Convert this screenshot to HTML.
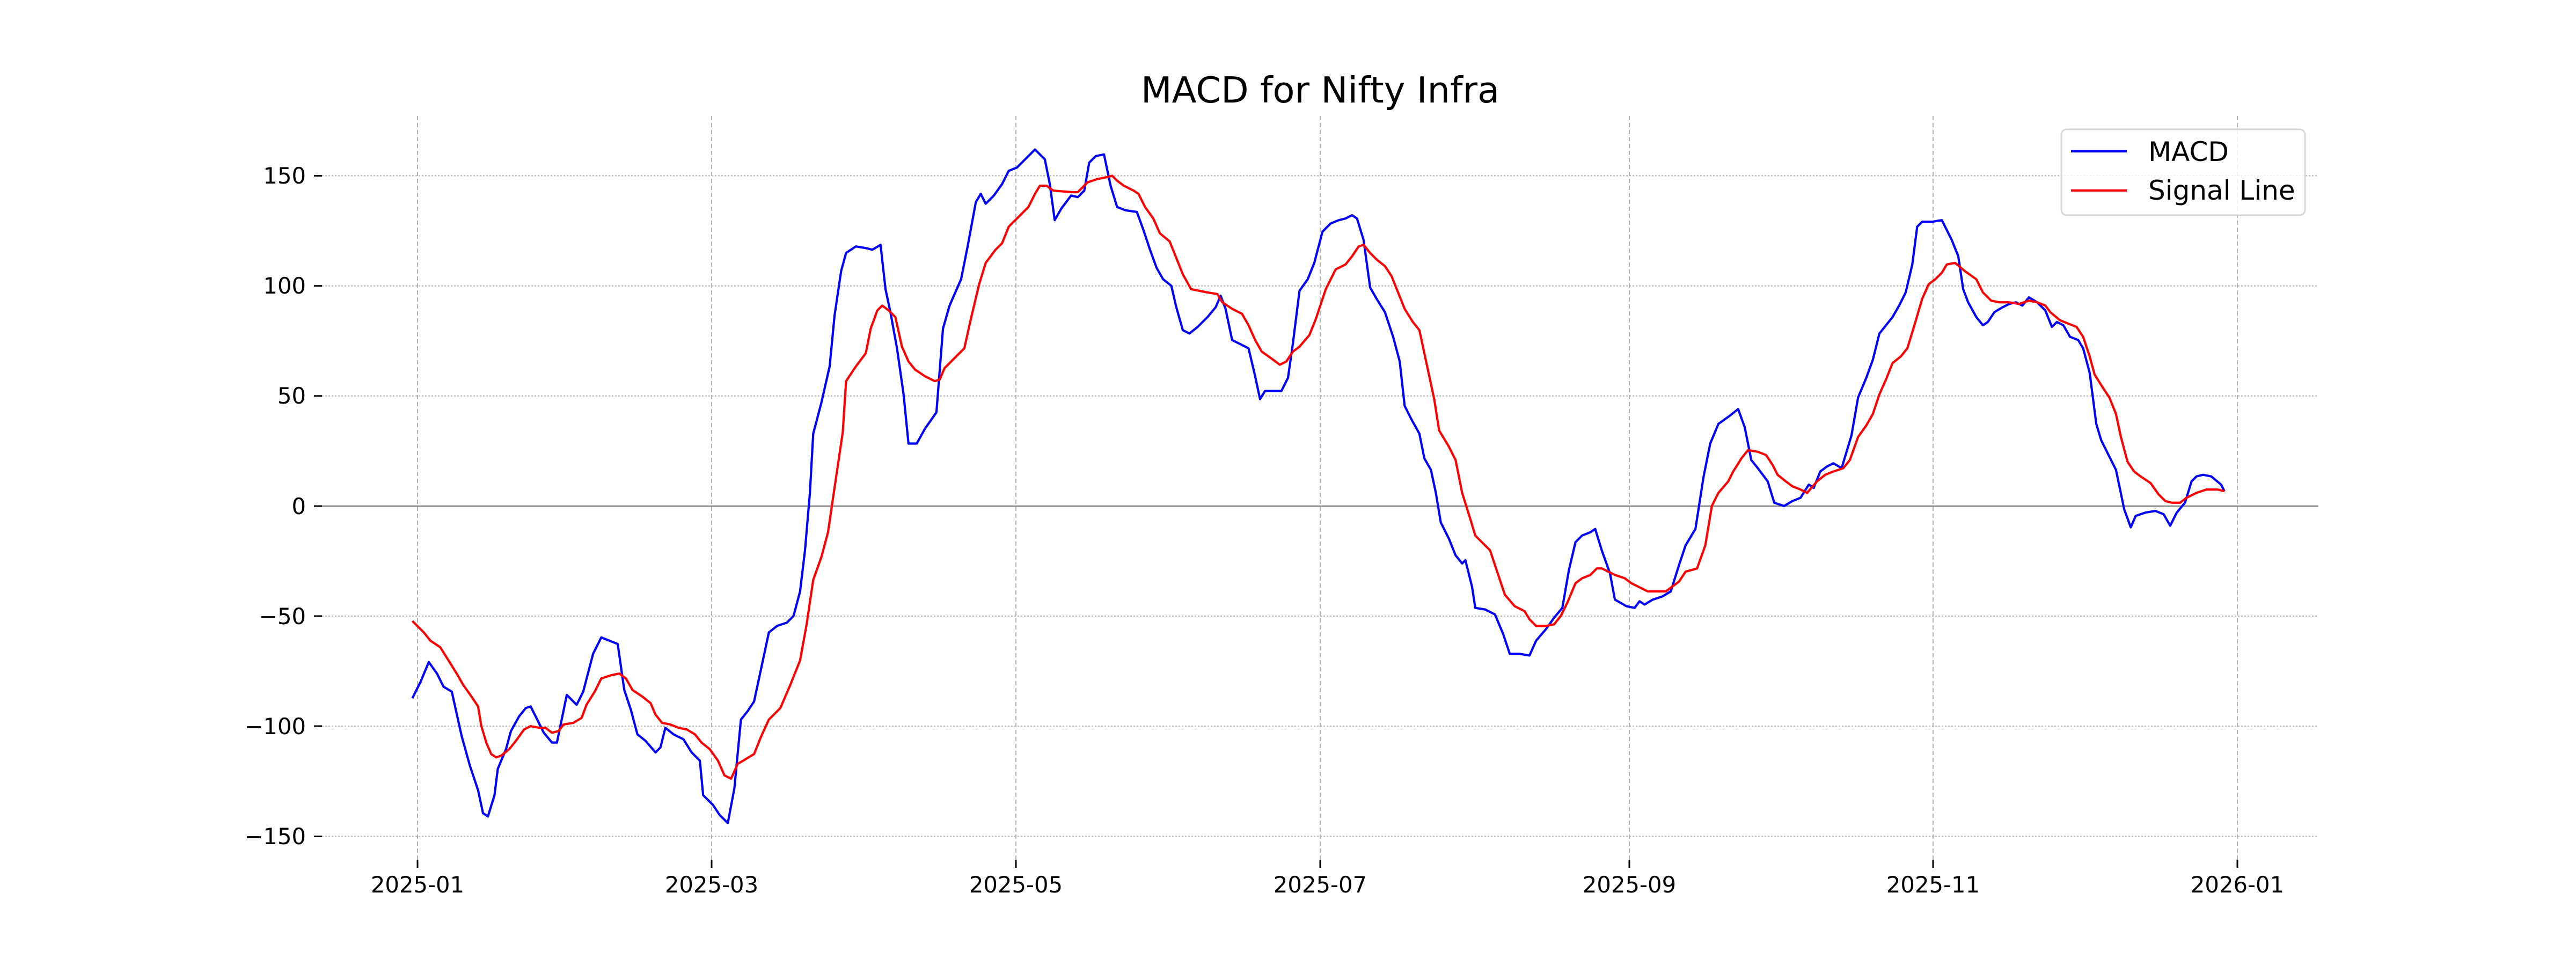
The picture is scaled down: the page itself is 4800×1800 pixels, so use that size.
<!DOCTYPE html>
<html><head><meta charset="utf-8"><style>
html,body{margin:0;padding:0;background:#fff;}
svg{display:block;}
text{font-family:"DejaVu Sans","Liberation Sans",sans-serif;fill:#000;}
</style></head><body>
<svg width="4800" height="1800" viewBox="0 0 4800 1800" xmlns="http://www.w3.org/2000/svg">
<rect width="4800" height="1800" fill="#fff"/>
<text x="2460" y="191" font-size="67" text-anchor="middle">MACD for Nifty Infra</text>
<g stroke="#b0b0b0" stroke-width="2" stroke-dasharray="3,3">
<line x1="600" x2="4320" y1="327.5" y2="327.5"/>
<line x1="600" x2="4320" y1="532.7" y2="532.7"/>
<line x1="600" x2="4320" y1="737.8" y2="737.8"/>
<line x1="600" x2="4320" y1="1148" y2="1148"/>
<line x1="600" x2="4320" y1="1353" y2="1353"/>
<line x1="600" x2="4320" y1="1558.5" y2="1558.5"/>
</g>
<g stroke="#b0b0b0" stroke-width="2" stroke-dasharray="8,5">
<line x1="778" x2="778" y1="216" y2="1602"/>
<line x1="1326" x2="1326" y1="216" y2="1602"/>
<line x1="1893" x2="1893" y1="216" y2="1602"/>
<line x1="2460" x2="2460" y1="216" y2="1602"/>
<line x1="3036" x2="3036" y1="216" y2="1602"/>
<line x1="3602" x2="3602" y1="216" y2="1602"/>
<line x1="4169" x2="4169" y1="216" y2="1602"/>
</g>
<line x1="600" x2="4320" y1="943" y2="943" stroke="#808080" stroke-width="2.5"/>
<g stroke="#000" stroke-width="3">
<line x1="585" x2="600" y1="327.5" y2="327.5"/>
<line x1="585" x2="600" y1="532.7" y2="532.7"/>
<line x1="585" x2="600" y1="737.8" y2="737.8"/>
<line x1="585" x2="600" y1="943" y2="943"/>
<line x1="585" x2="600" y1="1148" y2="1148"/>
<line x1="585" x2="600" y1="1353" y2="1353"/>
<line x1="585" x2="600" y1="1558.5" y2="1558.5"/>
<line x1="778" x2="778" y1="1602" y2="1617"/>
<line x1="1326" x2="1326" y1="1602" y2="1617"/>
<line x1="1893" x2="1893" y1="1602" y2="1617"/>
<line x1="2460" x2="2460" y1="1602" y2="1617"/>
<line x1="3036" x2="3036" y1="1602" y2="1617"/>
<line x1="3602" x2="3602" y1="1602" y2="1617"/>
<line x1="4169" x2="4169" y1="1602" y2="1617"/>
</g>
<g font-size="41.7" text-anchor="end">
<text x="570" y="342">150</text>
<text x="570" y="547">100</text>
<text x="570" y="752">50</text>
<text x="570" y="958">0</text>
<text x="570" y="1163">−50</text>
<text x="570" y="1368">−100</text>
<text x="570" y="1573">−150</text>
</g>
<g font-size="41.7" text-anchor="middle">
<text x="778" y="1663">2025-01</text>
<text x="1326" y="1663">2025-03</text>
<text x="1893" y="1663">2025-05</text>
<text x="2460" y="1663">2025-07</text>
<text x="3036" y="1663">2025-09</text>
<text x="3602" y="1663">2025-11</text>
<text x="4169" y="1663">2026-01</text>
</g>
<g transform="scale(3.0612)" fill="none" stroke-linejoin="round">
<polyline vector-effect="non-scaling-stroke" stroke="#0000ff" stroke-width="4.2" points="251,425 256,415 261,403 266,410 270,418 275,421 281,448 286,466 291,481 294,495 297,497 301,484 303,468 308,456 311,445 316,436 320,431 323,430 326,436 331,446 336,452 339,452 345,423 351,429 355,421 361,398 366,388 371,390 376,392 380,420 384,432 388,447 393,451 399,458 402,455 405,443 410,447 416,450 421,458 426,463 428,484 434,490 438,496 443,501 447,480 451,438 455,433 459,427 465,399 468,385 473,381 479,379 483,375 487,360 490,335 493,300 495,264 500,245 505,223 508,192 512,165 515,154 521,150 527,151 531,152 536,149 539,176 542,190 546,212 550,240 553,270 558,270 563,261 570,251 574,200 578,186 585,170 589,150 594,123 597,118 600,124 605,119 610,112 614,104 619,102 625,96 630,91 636,97 639,112 642,134 646,127 652,119 656,120 660,116 663,99 667,95 672,94 676,113 680,126 685,128 692,129 696,140 700,152 704,163 708,170 713,174 716,187 720,201 724,203 729,199 735,193 740,187 743,180 746,188 750,207 756,210 760,212 764,229 767,243 770,238 775,238 780,238 784,230 787,209 791,177 796,170 800,160 805,141 810,136 815,134 819,133 823,131 826,133 830,146 834,175 838,182 843,190 848,205 852,220 855,247 859,255 864,264 867,279 871,286 874,300 877,318 882,328 886,338 890,343 892,341 896,357 898,370 904,371 910,374 915,386 919,398 925,398 931,399 935,390 941,383 946,376 951,370 955,347 959,330 963,326 968,324 971,322 975,335 980,349 983,365 990,369 995,370 998,366 1001,368 1006,365 1012,363 1017,360 1022,344 1026,332 1032,322 1037,290 1041,270 1046,258 1053,253 1058,249 1062,260 1066,280 1070,285 1076,293 1080,306 1086,308 1091,305 1096,303 1101,295 1104,297 1108,287 1112,284 1116,282 1121,285 1127,265 1131,242 1136,230 1140,219 1144,203 1148,198 1152,193 1156,186 1160,178 1164,161 1167,138 1170,135 1176,135 1182,134 1188,146 1192,156 1195,176 1198,184 1203,193 1207,198 1210,196 1214,190 1219,187 1223,185 1227,184 1231,186 1235,181 1240,184 1245,189 1249,199 1252,196 1256,198 1260,205 1265,207 1268,212 1272,227 1276,258 1279,268 1284,278 1288,286 1293,310 1297,321 1300,314 1306,312 1312,311 1317,313 1321,320 1325,312 1330,306 1334,293 1337,290 1341,289 1346,290 1352,295 1354,299"/>
<polyline vector-effect="non-scaling-stroke" stroke="#ff0000" stroke-width="4.2" points="251,378 258,385 262,390 268,394 273,402 278,410 282,417 287,424 291,430 293,442 296,452 299,459 302,461 305,460 310,456 314,451 319,444 323,442 328,443 332,443 336,446 340,445 343,441 349,440 354,437 357,429 362,421 366,413 372,411 377,410 381,413 385,420 391,424 396,428 399,435 403,440 408,441 413,443 418,444 423,447 427,452 432,456 437,463 441,472 445,474 449,465 454,462 459,459 463,449 468,438 475,431 481,417 487,402 491,380 495,353 500,339 504,324 509,290 513,263 515,232 521,223 527,215 530,200 534,189 537,186 541,189 545,193 549,211 553,220 557,225 563,229 569,232 572,231 575,224 581,218 587,212 591,194 596,173 600,160 606,152 610,148 614,138 620,132 626,126 630,118 633,113 637,113 641,116 653,117 656,117 662,111 668,109 673,108 677,107 680,110 684,113 690,116 693,118 697,126 702,133 706,142 712,147 716,157 720,167 725,176 735,178 741,179 744,184 750,188 756,191 760,198 764,207 768,214 775,219 779,222 783,220 787,214 791,211 797,204 801,194 807,176 813,164 819,161 823,156 827,150 830,149 834,154 838,158 843,162 847,168 851,178 855,188 860,196 864,201 867,215 873,243 876,262 882,272 886,280 890,300 895,316 898,326 902,330 907,335 911,347 916,362 922,369 928,372 931,377 935,381 941,381 946,380 950,375 954,367 959,355 963,352 968,350 972,346 975,346 979,348 983,350 989,352 993,355 999,358 1003,360 1009,360 1014,360 1018,357 1022,354 1026,348 1033,346 1038,332 1042,308 1046,300 1052,293 1055,287 1060,279 1064,274 1070,275 1075,277 1079,283 1082,289 1087,293 1091,296 1096,298 1100,300 1106,293 1111,289 1116,287 1122,285 1126,280 1131,266 1136,259 1140,252 1144,240 1148,231 1152,221 1157,217 1161,212 1165,199 1170,182 1174,173 1178,170 1182,166 1185,161 1190,160 1196,165 1203,170 1207,178 1212,183 1217,184 1223,184 1229,185 1235,183 1240,184 1245,186 1248,190 1254,195 1259,197 1264,199 1268,205 1272,217 1275,228 1280,236 1284,242 1288,252 1291,266 1295,281 1299,287 1303,290 1309,294 1314,301 1318,305 1322,306 1327,306 1331,303 1337,300 1343,298 1350,298 1354,299"/>
</g>
<rect x="3841" y="241" width="454" height="160" rx="10" ry="10" fill="#fff" fill-opacity="0.8" stroke="#d6d6d6" stroke-width="3"/>
<line x1="3859" x2="3963" y1="282" y2="282" stroke="#0000ff" stroke-width="4.2"/>
<line x1="3859" x2="3963" y1="355" y2="355" stroke="#ff0000" stroke-width="4.2"/>
<text x="4003" y="300" font-size="50">MACD</text>
<text x="4003" y="372" font-size="50">Signal Line</text>
</svg>
</body></html>
